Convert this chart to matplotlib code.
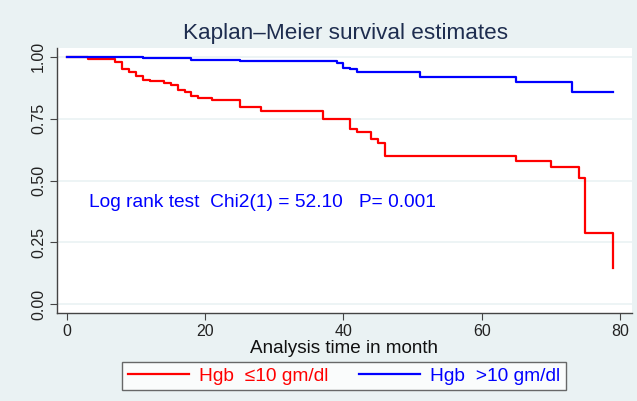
import matplotlib
matplotlib.use("Agg")
import matplotlib.pyplot as plt
from matplotlib.lines import Line2D

plt.rcParams["font.family"] = ["Liberation Sans", "DejaVu Sans"]

# ===== 数据：Kaplan-Meier 阶梯 =====
red_time = [0, 3, 7, 8, 9, 10, 11, 12, 14, 15, 16, 17, 18, 19, 21, 25, 28, 37,
            41, 42, 44, 45, 46, 65, 70, 74, 75, 79]
red_surv = [1.0, 0.99, 0.977, 0.95, 0.938, 0.92, 0.907, 0.90, 0.893, 0.887, 0.864,
            0.856, 0.842, 0.833, 0.825, 0.798, 0.779, 0.748, 0.709, 0.695, 0.668,
            0.653, 0.60, 0.578, 0.553, 0.511, 0.29, 0.145]

blue_time = [0, 3, 11, 18, 25, 39, 40, 41, 42, 51, 65, 73, 79]
blue_surv = [1.0, 0.997, 0.993, 0.987, 0.981, 0.973, 0.956, 0.949, 0.937, 0.919,
             0.897, 0.856, 0.856]

x_ticks = [0, 20, 40, 60, 80]
y_ticks = [0.0, 0.25, 0.5, 0.75, 1.0]
y_labels = ["0.00", "0.25", "0.50", "0.75", "1.00"]

BG = "#eaf2f3"
RED = "#ff0000"
BLUE = "#0000ff"

fig = plt.figure(figsize=(6.37, 4.01), dpi=100, facecolor=BG)
ax = fig.add_axes([57 / 637, 1 - 313 / 401, 575 / 637, 265 / 401])
ax.set_facecolor("white")

ax.step(red_time, red_surv, where="post", color=RED, lw=1.6, zorder=3)
ax.step(blue_time, blue_surv, where="post", color=BLUE, lw=1.6, zorder=3)

ax.set_xlim(-1.45, 81.74)
ax.set_ylim(-0.035, 1.035)
ax.set_xticks(x_ticks)
ax.set_yticks(y_ticks)
ax.set_yticklabels(y_labels, rotation=90, va="center")
ax.tick_params(axis="both", labelsize=11.5, direction="out", length=5,
               color="#444444", labelcolor="#222222", pad=3)
ax.grid(axis="y", color=BG, lw=1.2, zorder=0)

for s in ["top", "right"]:
    ax.spines[s].set_visible(False)
for s in ["left", "bottom"]:
    ax.spines[s].set_color("#444444")
    ax.spines[s].set_linewidth(1.0)

ax.set_xlabel("Analysis time in month", fontsize=13.6, color="#111111", labelpad=0.5)
fig.text(0.5425, 1 - 33 / 401, "Kaplan\u2013Meier survival estimates",
         ha="center", va="center", fontsize=16.2, color="#1e2d4f")

ax.text(3.2, 0.41, "Log rank test  Chi2(1) = 52.10   P= 0.001",
        color=BLUE, fontsize=13.8, va="center", ha="left")

handles = [Line2D([], [], color=RED, lw=1.6), Line2D([], [], color=BLUE, lw=1.6)]
leg = fig.legend(handles, ["Hgb  \u226410 gm/dl", "Hgb  >10 gm/dl"],
                 loc="center", bbox_to_anchor=(344 / 637, 1 - 376 / 401),
                 ncol=2, fontsize=13.8, frameon=True, fancybox=False,
                 handlelength=3.2, handletextpad=0.52, columnspacing=1.56,
                 borderpad=0.3)
leg.get_frame().set_edgecolor("#444444")
leg.get_frame().set_linewidth(1.0)
for t, c in zip(leg.get_texts(), [RED, BLUE]):
    t.set_color(c)

fig.savefig("out.png", dpi=100, facecolor=BG)
